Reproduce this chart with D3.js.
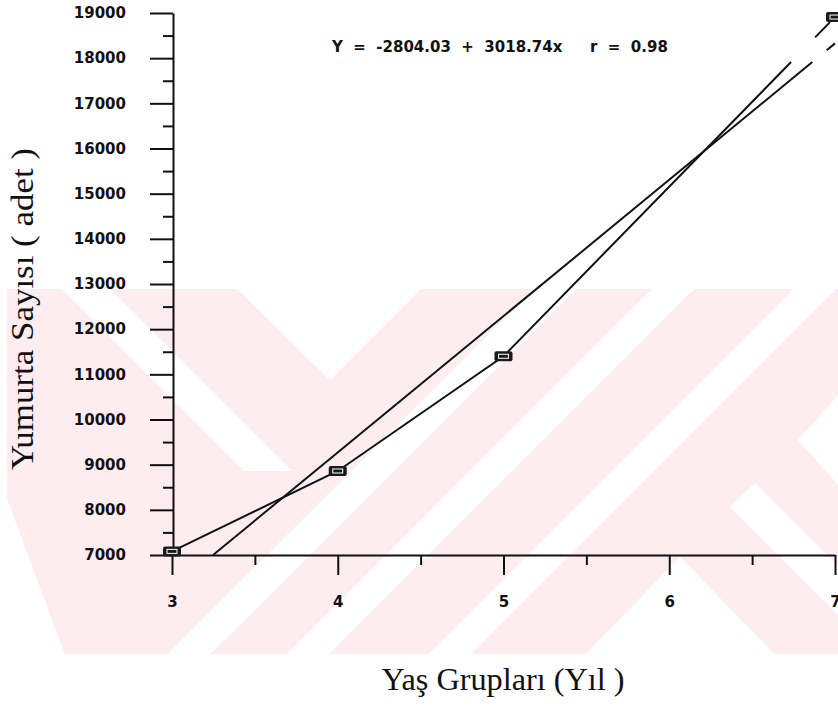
<!DOCTYPE html>
<html lang="tr">
<head>
<meta charset="UTF-8">
<script src="https://d3js.org/d3.v7.min.js" charset="utf-8"></script>
<title>Yumurta Sayısı</title>
<style>

body {
  margin: 0;
  background: #fff;
}

.axis text {
  font: bold 15px "DejaVu Sans", sans-serif;
  fill: #111;
}

.axis line,
.axis path {
  stroke: #111;
  stroke-width: 2;
}

.title {
  font-family: "Liberation Serif", "DejaVu Serif", serif;
  font-size: 31px;
  fill: #111;
}

.eq {
  font: bold 15px "DejaVu Sans", sans-serif;
  fill: #111;
}

</style>
</head>
<body>
<script>

// data
var ages = [3, 4, 5, 7];
var eggs = [7080, 8860, 11400, 18910];
var xTicks = [3, 3.5, 4, 4.5, 5, 5.5, 6, 6.5, 7];
var yTicks = d3.range(7000, 19001, 500);
var intercept = -2804.03,
    slope = 3018.74,
    r = 0.98;

var width = 838,
    height = 706;

var svg = d3.select("body").append("svg")
    .attr("width", width)
    .attr("height", height);

// faint watermark behind the plot
var wm = svg.append("g");
wm.append("clipPath")
    .attr("id", "wmclip")
  .append("rect")
    .attr("x", 7).attr("y", 289)
    .attr("width", 831).attr("height", 365);

var wmg = wm.append("g").attr("clip-path", "url(#wmclip)");
wmg.append("rect")
    .attr("x", 0).attr("y", 280)
    .attr("width", width).attr("height", 390)
    .attr("fill", "#fdedf0");

// white "/" bands: x at the top and bottom edge of the watermark
var bands = [[555, 190], [673, 309], [815, 451]];
wmg.selectAll("line.band")
    .data(bands)
  .enter().append("line")
    .attr("class", "band")
    .attr("x1", function(d) { return d[0] + 20; })
    .attr("y1", 269)
    .attr("x2", function(d) { return d[1] - 20; })
    .attr("y2", 673)
    .attr("stroke", "#fff")
    .attr("stroke-width", 30);

var wedges = [
  [[237, 289], [421, 289], [330, 380]],
  [[62, 289], [110, 289], [292, 471], [244, 471]],
  [[0, 480], [0, 660], [67, 660]],
  [[838, 395], [798, 440], [838, 485]],
  [[730, 507], [755, 483], [838, 566], [838, 615]],
  [[680, 557], [580, 660], [780, 660]]
];
wmg.selectAll("path.wedge")
    .data(wedges)
  .enter().append("path")
    .attr("class", "wedge")
    .attr("d", function(d) { return "M" + d.join("L") + "Z"; })
    .attr("fill", "#fff");

var x = d3.scaleLinear().domain([3, 7]).range([172, 835]);
var y = d3.scaleLinear().domain([7000, 19000]).range([555, 13]);

// x axis
var xAxis = svg.append("g")
    .attr("class", "axis")
    .attr("transform", "translate(0,555)")
    .call(d3.axisBottom(x)
      .tickValues(xTicks)
      .tickSizeOuter(0)
      .tickFormat(function(d) { return d % 1 ? "" : d; }));

xAxis.selectAll(".tick line")
    .attr("y2", function(d) { return d % 1 ? 10 : 20; });
xAxis.selectAll(".tick text")
    .attr("y", 41);

// y axis
var yAxis = svg.append("g")
    .attr("class", "axis")
    .attr("transform", "translate(173,0)")
    .call(d3.axisLeft(y)
      .tickValues(yTicks)
      .tickSizeOuter(0)
      .tickFormat(function(d) { return d % 1000 ? "" : d; }));

yAxis.selectAll(".tick line")
    .attr("x2", function(d) { return d % 1000 ? -10 : -23; });
yAxis.selectAll(".tick text")
    .attr("x", -47);

// regression line, with the scanner gap near the top
var x0 = (7000 - intercept) / slope;
var regParts = [[x0, 6.863], [6.95, 7]];
svg.selectAll("line.reg")
    .data(regParts)
  .enter().append("line")
    .attr("class", "reg")
    .attr("x1", function(d) { return x(d[0]); })
    .attr("y1", function(d) { return y(intercept + slope * d[0]); })
    .attr("x2", function(d) { return x(d[1]); })
    .attr("y2", function(d) { return y(intercept + slope * d[1]); })
    .attr("stroke", "#111")
    .attr("stroke-width", 2);

// observed values
var pts = ages.map(function(a, i) { return [a, eggs[i]]; });

var line = d3.line()
    .x(function(d) { return x(d[0]); })
    .y(function(d) { return y(d[1]); });

var dataPath = svg.append("path")
    .datum(pts)
    .attr("d", line)
    .attr("fill", "none")
    .attr("stroke", "#111")
    .attr("stroke-width", 2);

var L = dataPath.node().getTotalLength();
var a = pts[pts.length - 2], b = pts[pts.length - 1];
var seg = Math.hypot(x(b[0]) - x(a[0]), y(b[1]) - y(a[1]));
var frac = function(v) { return (v - a[0]) / (b[0] - a[0]); };
var solid = L - seg * (1 - frac(6.735));
dataPath.attr("stroke-dasharray", [
  solid,
  seg * (frac(6.88) - frac(6.735)),
  seg * (frac(6.97) - frac(6.88)),
  seg * (1 - frac(6.97)) + 4,
  100
].join(","));

var marks = svg.selectAll("g.mark")
    .data(pts)
  .enter().append("g")
    .attr("class", "mark")
    .attr("transform", function(d) { return "translate(" + x(d[0]) + "," + y(d[1]) + ")"; });

marks.append("rect")
    .attr("x", -9).attr("y", -5)
    .attr("width", 18).attr("height", 10)
    .attr("rx", 2)
    .attr("fill", "#1a1a1a");

marks.append("rect")
    .attr("x", -5).attr("y", -2)
    .attr("width", 10).attr("height", 4)
    .attr("fill", "none")
    .attr("stroke", "#fff")
    .attr("stroke-width", 1);

// equation
var eq = svg.append("text")
    .attr("class", "eq")
    .attr("y", 52)
    .attr("xml:space", "preserve");
eq.append("tspan")
    .attr("x", 332)
    .text("Y  =  " + intercept.toFixed(2) + "  +  " + slope.toFixed(2) + "x");
eq.append("tspan")
    .attr("x", 590)
    .text("r  =  " + r.toFixed(2));

// axis titles
svg.append("text")
    .attr("class", "title")
    .attr("transform", "translate(33,309) rotate(-90)")
    .attr("text-anchor", "middle")
    .attr("textLength", 322)
    .attr("lengthAdjust", "spacingAndGlyphs")
    .text("Yumurta Sayısı ( adet )");

svg.append("text")
    .attr("class", "title")
    .attr("x", 503)
    .attr("y", 690)
    .attr("text-anchor", "middle")
    .attr("textLength", 243)
    .attr("lengthAdjust", "spacingAndGlyphs")
    .text("Yaş Grupları (Yıl )");

</script>
</body>
</html>
